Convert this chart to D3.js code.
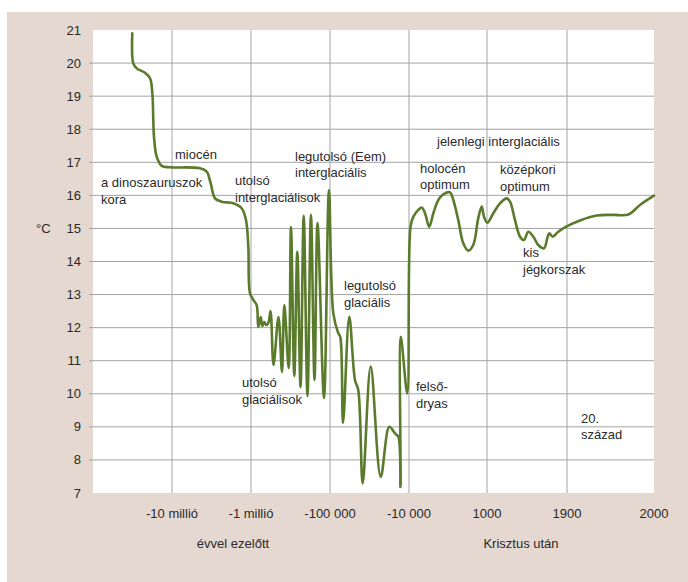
<!DOCTYPE html>
<html>
<head>
<meta charset="utf-8">
<script src="https://cdn.jsdelivr.net/npm/d3@7"></script>
<style>
  body { margin: 0; background: #fff; }
  svg { display: block; font-family: "Liberation Sans", Arial, sans-serif; }
  .grid line { stroke: #a3a3a3; stroke-width: 1; }
  .tick-y, .tick-x, .axis-title, .note { fill: #2a2a2a; font-size: 13px; }
</style>
</head>
<body>
<svg id="chart" width="688" height="582"></svg>
<script>
// x is measured in axis steps: 0 = left edge, 1 = -10 millió ... 7 = 2000
const tickLabels = ['-10 millió', '-1 millió', '-100 000', '-10 000', '1000', '1900', '2000'];
const tickSteps  = [1, 2, 3, 4, 5, 6, 7];
const yTicks     = [7, 8, 9, 10, 11, 12, 13, 14, 15, 16, 17, 18, 19, 20, 21];

// temperature curve
const period = [0.497, 0.510, 0.553, 0.658, 0.722, 0.751, 0.772, 0.806, 0.870, 0.975,
  1.354, 1.439, 1.490, 1.544, 1.629, 1.776, 1.882, 1.937, 1.966, 1.987,
  2.029, 2.072, 2.092, 2.123, 2.143, 2.168, 2.190, 2.219, 2.247, 2.285,
  2.348, 2.392, 2.422, 2.477, 2.506, 2.548, 2.586, 2.627, 2.667, 2.715,
  2.759, 2.804, 2.842, 2.924, 2.987, 3.042, 3.105, 3.130, 3.165, 3.244,
  3.316, 3.358, 3.414, 3.515, 3.642, 3.751, 3.823, 3.865, 3.892, 3.896,
  3.978, 4.019, 4.055, 4.119, 4.163, 4.205, 4.260, 4.312, 4.376, 4.440,
  4.526, 4.568, 4.632, 4.696, 4.760, 4.824, 4.888, 4.932, 4.962, 5.004,
  5.079, 5.163, 5.246, 5.288, 5.350, 5.413, 5.463, 5.516, 5.579, 5.641,
  5.713, 5.754, 5.779, 5.821, 5.891, 5.996, 6.149, 6.341, 6.532, 6.705,
  6.839, 7.0];
const temp = [20.90, 19.99, 19.84, 19.71, 19.54, 19.09, 17.77, 17.17, 16.89, 16.85,
  16.82, 16.72, 16.36, 15.91, 15.81, 15.76, 15.61, 15.25, 14.45, 13.04,
  12.84, 12.68, 12.02, 12.32, 12.05, 12.17, 12.08, 12.14, 12.50, 10.87,
  12.32, 10.66, 12.68, 10.78, 15.04, 10.54, 14.29, 10.20, 15.38, 9.93,
  15.41, 10.42, 15.16, 9.87, 16.16, 12.43, 11.83, 11.72, 9.12, 12.33,
  10.42, 10.11, 7.29, 10.82, 7.49, 9.00, 8.80, 8.70, 7.18, 11.72,
  10.01, 15.05, 15.35, 15.56, 15.63, 15.46, 15.05, 15.46, 15.86, 16.03,
  16.09, 15.86, 15.25, 14.55, 14.33, 14.50, 15.31, 15.66, 15.35, 15.17,
  15.46, 15.76, 15.91, 15.81, 15.25, 14.75, 14.65, 14.90, 14.75, 14.50,
  14.40, 14.71, 14.85, 14.75, 14.90, 15.06, 15.24, 15.39, 15.41, 15.42,
  15.71, 15.99];

// annotation text, left-aligned, pixel anchors of the first baseline
const notes = [
  { lines: ['a dinoszauruszok', 'kora'], x: 101, y: 187 },
  { lines: ['miocén'], x: 175, y: 159 },
  { lines: ['utolsó', 'interglaciálisok'], x: 235, y: 185 },
  { lines: ['legutolsó (Eem)', 'interglaciális'], x: 295, y: 160.5 },
  { lines: ['utolsó', 'glaciálisok'], x: 242, y: 387 },
  { lines: ['legutolsó', 'glaciális'], x: 344, y: 290 },
  { lines: ['felső-', 'dryas'], x: 416, y: 391 },
  { lines: ['jelenlegi interglaciális'], x: 437, y: 146 },
  { lines: ['holocén', 'optimum'], x: 420, y: 172.5 },
  { lines: ['középkori', 'optimum'], x: 500, y: 174 },
  { lines: ['kis', 'jégkorszak'], x: 523, y: 257 },
  { lines: ['20.', 'század'], x: 581, y: 422.5 }
];

const svg = d3.select('#chart');
const L = 93, R = 654, T = 30, B = 493;

svg.append('rect').attr('x', 7).attr('y', 12).attr('width', 681).attr('height', 570).attr('fill', '#e5d8d0');
svg.append('rect').attr('x', L).attr('y', T).attr('width', R - L).attr('height', B - T).attr('fill', '#fff');

const x = d3.scaleLinear().domain([0, 1, 2, 3, 4, 5, 6, 7]).range([L, 172, 251, 330, 409, 487, 567, R]);
const y = d3.scaleLinear().domain([7, 21]).range([B, T]);

// grid: horizontal lines with a short stub left of the plot, vertical at the ticks
const grid = svg.append('g').attr('class', 'grid');
grid.selectAll('line.h').data(yTicks.filter(v => v > 7 && v < 21)).join('line')
  .attr('class', 'h').attr('x1', L - 4).attr('x2', R).attr('y1', d => y(d)).attr('y2', d => y(d));
grid.selectAll('line.v').data(tickSteps.slice(0, -1)).join('line')
  .attr('class', 'v').attr('y1', T).attr('y2', B).attr('x1', d => x(d)).attr('x2', d => x(d));

svg.append('g').selectAll('text').data(yTicks).join('text')
  .attr('class', 'tick-y').attr('x', 81).attr('y', d => y(d)).attr('dy', '0.35em')
  .attr('text-anchor', 'end').text(d => d);
svg.append('text').attr('class', 'tick-y').attr('x', 36).attr('y', y(15)).attr('dy', '0.35em').text('°C');

svg.append('g').selectAll('text').data(tickSteps).join('text')
  .attr('class', 'tick-x').attr('x', d => x(d)).attr('y', 518)
  .attr('text-anchor', 'middle').text((d, i) => tickLabels[i]);

svg.append('text').attr('class', 'axis-title').attr('x', 233).attr('y', 548).attr('text-anchor', 'middle').text('évvel ezelőtt');
svg.append('text').attr('class', 'axis-title').attr('x', 521).attr('y', 548).attr('text-anchor', 'middle').text('Krisztus után');

const pts = period.map((p, i) => [p, temp[i]]);
const line = d3.line().x(d => x(d[0])).y(d => y(d[1])).curve(d3.curveCatmullRom.alpha(0.5));
svg.append('path').datum(pts).attr('d', line)
  .attr('fill', 'none').attr('stroke', '#5b7b2c').attr('stroke-width', 2.6)
  .attr('stroke-linejoin', 'round').attr('stroke-linecap', 'round');

const noteG = svg.append('g');
notes.forEach(n => {
  const t = noteG.append('text').attr('class', 'note').attr('x', n.x).attr('y', n.y);
  n.lines.forEach((s, i) => t.append('tspan').attr('x', n.x).attr('dy', i ? 16.7 : 0).text(s));
});
</script>
</body>
</html>
